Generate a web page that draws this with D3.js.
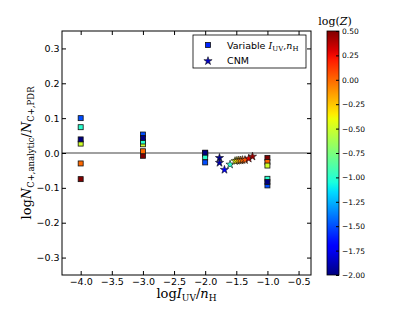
<!DOCTYPE html>
<html lang="en">
<head>
  <meta charset="utf-8" />
  <title>CII analytic vs PDR</title>
  <script src="https://d3js.org/d3.v7.min.js"></script>
  <style>
    body { margin: 0; background: #fff; }
    svg { font-family: "DejaVu Sans", sans-serif; }
    .tick text { fill: #000; }
    .tick line { stroke: #000; }
    .serif { font-family: "DejaVu Serif", "Liberation Serif", serif; }
  </style>
</head>
<body>
<svg id="chart" width="415" height="313"></svg>
<script>
// metallicity of each variable-field run, log(Z)
var metals = [-2.0, -1.5, -1.0, -0.5, 0.0, 0.5];
var xVariable = [-4.0, -3.0, -2.0, -1.0];
// log N_analytic/N_PDR for each x (rows) and metallicity (cols)
var yVariable = [
  [0.039, 0.100, 0.074, 0.027, -0.030, -0.075],
  [0.043, 0.053, 0.033, 0.025, 0.005, -0.008],
  [0.001, -0.027, -0.012, -0.004, -0.002, 0.000],
  [-0.083, -0.093, -0.074, -0.036, -0.026, -0.014]
];
// CNM models
var cnmX = [-1.77, -1.77, -1.69, -1.60, -1.52, -1.49, -1.46, -1.43, -1.40, -1.36, -1.30, -1.24];
var cnmY = [-0.014, -0.028, -0.048, -0.033, -0.023, -0.022, -0.021, -0.021, -0.020, -0.020, -0.016, -0.010];
var cnmZ = [-1.95, -1.9, -1.7, -1.0, -0.45, -0.35, -0.2, -0.1, 0.0, 0.05, 0.3, 0.45];

var xTicks = [-4.0, -3.5, -3.0, -2.5, -2.0, -1.5, -1.0, -0.5];
var yTicks = [-0.3, -0.2, -0.1, 0.0, 0.1, 0.2, 0.3];
var cTicks = [-2.0, -1.75, -1.5, -1.25, -1.0, -0.75, -0.5, -0.25, 0.0, 0.25, 0.5];

drawChart();

function drawChart(){
  var svg = d3.select("#chart");
  var left = 62, right = 311, top = 31, bottom = 275;

  var x = d3.scaleLinear().domain([-4.3, -0.3]).range([left, right]);
  var y = d3.scaleLinear().domain([-0.35, 0.35]).range([bottom, top]);

  // matplotlib "jet"
  var jr = d3.scaleLinear().domain([0, 0.35, 0.66, 0.89, 1]).range([0, 0, 1, 1, 0.5]).clamp(true);
  var jg = d3.scaleLinear().domain([0, 0.125, 0.375, 0.64, 0.91, 1]).range([0, 0, 1, 1, 0, 0]).clamp(true);
  var jb = d3.scaleLinear().domain([0, 0.11, 0.34, 0.65, 1]).range([0.5, 1, 1, 0, 0]).clamp(true);
  var zt = d3.scaleLinear().domain([-2.0, 0.5]).range([0, 1]).clamp(true);
  function jet(t){
    return d3.rgb(jr(t) * 255, jg(t) * 255, jb(t) * 255).toString();
  }
  function color(z){ return jet(zt(z)); }

  // zero line
  svg.append("line")
    .attr("x1", left).attr("x2", right)
    .attr("y1", y(0)).attr("y2", y(0))
    .attr("stroke", "#808080").attr("stroke-width", 1.5);

  // variable I_UV, n_H squares (high Z first so low Z sits on top)
  var pts = [];
  xVariable.forEach(function(xv, i){
    for (var j = metals.length - 1; j >= 0; j--) {
      pts.push({x: xv, y: yVariable[i][j], z: metals[j]});
    }
  });
  var s = 5;
  svg.append("g").selectAll("rect")
    .data(pts)
    .enter().append("rect")
    .attr("x", function(d){ return x(d.x) - s / 2; })
    .attr("y", function(d){ return y(d.y) - s / 2; })
    .attr("width", s).attr("height", s)
    .attr("fill", function(d){ return color(d.z); })
    .attr("stroke", "#111").attr("stroke-width", 0.8);

  // CNM stars
  var star = d3.symbol().type(d3.symbolStar).size(21);
  svg.append("g").selectAll("path")
    .data(cnmX.map(function(v, i){ return {x: v, y: cnmY[i], z: cnmZ[i]}; }))
    .enter().append("path")
    .attr("d", star)
    .attr("transform", function(d){ return "translate(" + x(d.x) + "," + y(d.y) + ")"; })
    .attr("fill", function(d){ return color(d.z); })
    .attr("stroke", "#111").attr("stroke-width", 0.6);

  // axes, ticks pointing in
  var fmt1 = d3.format(".1f");
  var gx = svg.append("g").attr("transform", "translate(0," + bottom + ")")
    .call(d3.axisBottom(x).tickValues(xTicks).tickFormat(fmt1).tickSize(-4).tickPadding(3.5));
  var gxt = svg.append("g").attr("transform", "translate(0," + top + ")")
    .call(d3.axisTop(x).tickValues(xTicks).tickFormat("").tickSize(-4));
  var gy = svg.append("g").attr("transform", "translate(" + left + ",0)")
    .call(d3.axisLeft(y).tickValues(yTicks).tickFormat(fmt1).tickSize(-4).tickPadding(2.5));
  var gyr = svg.append("g").attr("transform", "translate(" + right + ",0)")
    .call(d3.axisRight(y).tickValues(yTicks).tickFormat("").tickSize(-4));
  [gx, gxt, gy, gyr].forEach(function(g){
    g.select(".domain").remove();
    g.selectAll("text").attr("font-size", 9.5).attr("font-family", "DejaVu Sans");
  });

  svg.append("rect")
    .attr("x", left).attr("y", top)
    .attr("width", right - left).attr("height", bottom - top)
    .attr("fill", "none").attr("stroke", "#000").attr("stroke-width", 1);

  // x label
  var xl = svg.append("text").attr("class", "serif")
    .attr("x", (left + right) / 2).attr("y", 298)
    .attr("text-anchor", "middle").attr("font-size", 13);
  xl.append("tspan").text("log");
  xl.append("tspan").attr("font-style", "italic").text("I");
  xl.append("tspan").attr("font-size", 9).attr("dy", 3).text("UV");
  xl.append("tspan").attr("dy", -3).text("/");
  xl.append("tspan").attr("font-style", "italic").text("n");
  xl.append("tspan").attr("font-size", 9).attr("dy", 3).text("H");

  // y label
  var yl = svg.append("text").attr("class", "serif")
    .attr("transform", "translate(31," + ((top + bottom) / 2) + ") rotate(-90)")
    .attr("text-anchor", "middle").attr("font-size", 13);
  yl.append("tspan").text("log");
  yl.append("tspan").attr("font-style", "italic").text("N");
  yl.append("tspan").attr("font-size", 8.5).attr("dy", 3).text("C+,analytic");
  yl.append("tspan").attr("dy", -3).text("/");
  yl.append("tspan").attr("font-style", "italic").text("N");
  yl.append("tspan").attr("font-size", 8.5).attr("dy", 3).text("C+,PDR");

  // legend
  var lg = svg.append("g");
  lg.append("rect")
    .attr("x", 193).attr("y", 35).attr("width", 113).attr("height", 33)
    .attr("fill", "#fff").attr("stroke", "#000").attr("stroke-width", 0.8);
  lg.append("rect")
    .attr("x", 205.5).attr("y", 42.5).attr("width", 5).attr("height", 5)
    .attr("fill", color(-1.6)).attr("stroke", "#111").attr("stroke-width", 0.8);
  lg.append("path").attr("d", star)
    .attr("transform", "translate(208,61)")
    .attr("fill", color(-1.85)).attr("stroke", "#111").attr("stroke-width", 0.6);
  var t1 = lg.append("text").attr("x", 227).attr("y", 49).attr("font-size", 9.5);
  t1.append("tspan").text("Variable ");
  t1.append("tspan").attr("class", "serif").attr("font-style", "italic").text("I");
  t1.append("tspan").attr("class", "serif").attr("font-size", 7).attr("dy", 2).text("UV");
  t1.append("tspan").attr("class", "serif").attr("dy", -2).text(",");
  t1.append("tspan").attr("class", "serif").attr("font-style", "italic").text("n");
  t1.append("tspan").attr("class", "serif").attr("font-size", 7).attr("dy", 2).text("H");
  lg.append("text").attr("x", 227).attr("y", 64).attr("font-size", 9.5).text("CNM");

  // colorbar
  var cbx = 327, cbw = 12;
  var cy = d3.scaleLinear().domain([-2.0, 0.5]).range([bottom, top]);
  var grad = svg.append("defs").append("linearGradient")
    .attr("id", "jet").attr("x1", 0).attr("y1", 1).attr("x2", 0).attr("y2", 0);
  d3.range(0, 1.0001, 0.02).forEach(function(t){
    grad.append("stop").attr("offset", t).attr("stop-color", jet(t));
  });
  svg.append("rect")
    .attr("x", cbx).attr("y", top).attr("width", cbw).attr("height", bottom - top)
    .attr("fill", "url(#jet)").attr("stroke", "#000").attr("stroke-width", 0.8);
  var gc = svg.append("g").attr("transform", "translate(" + (cbx + cbw) + ",0)")
    .call(d3.axisRight(cy).tickValues(cTicks).tickFormat(d3.format(".2f")).tickSize(-3).tickPadding(3));
  gc.select(".domain").remove();
  gc.selectAll("text").attr("font-size", 7.5).attr("font-family", "DejaVu Sans");

  var zl = svg.append("text").attr("class", "serif")
    .attr("x", 335).attr("y", 25).attr("text-anchor", "middle").attr("font-size", 11);
  zl.append("tspan").text("log(");
  zl.append("tspan").attr("font-style", "italic").text("Z");
  zl.append("tspan").text(")");
}
</script>
</body>
</html>
